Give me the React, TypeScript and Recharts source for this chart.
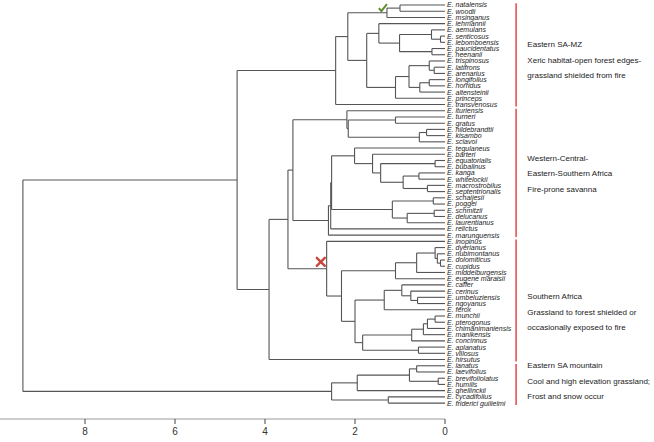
import React from 'react';
import {
  ComposedChart,
  XAxis,
  YAxis,
  Scatter,
  ReferenceLine,
  ReferenceDot,
} from 'recharts';

// leaf order, top to bottom
const species = [
  'natalensis', 'woodii', 'msinganus', 'lehmannii', 'aemulans', 'senticosus',
  'lebomboensis', 'paucidentatus', 'heenanii', 'trispinosus', 'latifrons',
  'arenarius', 'longifolius', 'horridus', 'altensteinii', 'princeps',
  'transvenosus', 'ituriensis', 'turneri', 'gratus', 'hildebrandtii', 'kisambo',
  'sclavoi', 'tegulaneus', 'barteri', 'equatorialis', 'bubalinus', 'kanga',
  'whitelockii', 'macrostrobilus', 'septentrionalis', 'schaijesii', 'poggei',
  'schmitzii', 'delucanus', 'laurentianus', 'relictus', 'marunguensis',
  'inopinus', 'dyerianus', 'nubimontanus', 'dolomiticus', 'cupidus',
  'middelburgensis', 'eugene maraisii', 'caffer', 'cerinus', 'umbeluziensis',
  'ngoyanus', 'ferox', 'munchii', 'pterogonus', 'chimanimaniensis', 'manikensis',
  'concinnus', 'aplanatus', 'villosus', 'hirsutus', 'lanatus', 'laevifolius',
  'brevifoliolatus', 'humilis', 'ghellinckii', 'cycadifolius', 'friderici guilielmi',
];

// [node height, upper child, lower child]
type Node = string | [number, Node, Node];

const easternMZ: Node = [2.43,
  [2.16,
    [1.29, [1.0, 'natalensis', 'woodii'], 'msinganus'],
    [1.74,
      [1.47, 'lehmannii',
        [1.01,
          [0.3, 'aemulans', [0.1, 'senticosus', 'lebomboensis']],
          [0.29, 'paucidentatus', 'heenanii']]],
      [1.1,
        [0.8,
          [0.35, 'trispinosus', [0.24, 'latifrons', 'arenarius']],
          [0.56, [0.35, 'longifolius', 'horridus'], 'altensteinii']],
        'princeps']]],
  'transvenosus'];

const westCentral: Node = [3.38,
  [2.18, 'ituriensis',
    [2.15, [1.1, 'turneri', 'gratus'], [0.57, [0.41, 'hildebrandtii', 'kisambo'], 'sclavoi']]],
  [2.59,
    [2.54,
      [2.52,
        [2.01, 'tegulaneus',
          [1.61, 'barteri',
            [1.43,
              [0.22, 'equatorialis', 'bubalinus'],
              [0.93, [0.58, 'kanga', 'whitelockii'], [0.39, 'macrostrobilus', 'septentrionalis']]]]],
        [1.17, [0.26, 'schaijesii', 'poggei'], [0.84, [0.24, 'schmitzii', 'delucanus'], 'laurentianus']]],
      'relictus'],
    'marunguensis']];

const southern: Node = [2.63, 'inopinus',
  [2.3,
    [1.1,
      [0.63, [0.22, 'dyerianus', [0.17, 'nubimontanus', [0.1, 'dolomiticus', 'cupidus']]], 'middelburgensis'],
      'eugene maraisii'],
    [2.0,
      [1.35, [0.96, 'caffer', [0.76, 'cerinus', [0.61, 'umbeluziensis', 'ngoyanus']]], 'ferox'],
      [1.83,
        [0.74, [0.48, [0.39, [0.22, 'munchii', 'pterogonus'], 'chimanimaniensis'], 'manikensis'], 'concinnus'],
        [0.59, 'aplanatus', 'villosus']]]]];

const mountain: Node = [2.52,
  [1.95, [0.79, [0.63, 'lanatus', 'laevifolius'], [0.15, 'brevifoliolatus', 'humilis']], 'ghellinckii'],
  [1.26, 'cycadifolius', 'friderici guilielmi']];

const tree: Node = [9.38,
  [4.62, easternMZ, [3.91, [3.49, westCentral, southern], 'hirsutus']],
  mountain];

const distTicks = [0, 2, 4, 6, 8];

const groupFirst = ['natalensis', 'ituriensis', 'inopinus', 'lanatus'];
const groupLast = ['transvenosus', 'marunguensis', 'hirsutus', 'friderici guilielmi'];
const groupTitles = ['Eastern SA-MZ', 'Western-Central-', 'Southern Africa', 'Eastern SA mountain'];
const groupLine2 = [
  'Xeric habitat-open forest edges-',
  'Eastern-Southern Africa',
  'Grassland to forest shielded or',
  'Cool and high elevation grassland;',
];
const groupLine3 = [
  'grassland shielded from fire',
  'Fire-prone savanna',
  'occasionally exposed to fire',
  'Frost and snow occur',
];

// layout (pixels -> units): 45px per distance unit, 6.22px per leaf row
const W = 654;
const H = 442;
const PLOT_W = 445;
const AXIS_H = 23;
const ROW_PX = 6.22;
const rowMin = -5 / ROW_PX;
const rowMax = rowMin + (H - AXIS_H) / ROW_PX;
const BAR_X = -1.58;
const NOTE_X = -1.83;
const NOTE_ROW = [9.3, 27.5, 49.8, 60.9];

type Seg = { x1: number; y1: number; x2: number; y2: number };
const segs: Seg[] = [];
const place = (n: Node): { h: number; y: number } => {
  if (typeof n === 'string') return { h: 0, y: species.indexOf(n) };
  const [h, a, b] = n;
  const A = place(a);
  const B = place(b);
  segs.push({ x1: h, y1: A.y, x2: h, y2: B.y });
  segs.push({ x1: h, y1: A.y, x2: A.h, y2: A.y });
  segs.push({ x1: h, y1: B.y, x2: B.h, y2: B.y });
  return { h, y: (A.y + B.y) / 2 };
};
place(tree);

const tips = species.map((_, i) => ({ h: 0, row: i }));

const LeafTick = (props: any) => {
  const { x, y, payload } = props;
  return (
    <text x={x} y={y} dy="0.35em" fontSize={7} fontStyle="italic" fill="#222" textAnchor="start">
      E. {species[payload.value]}
    </text>
  );
};

const CheckMark = (p: any) => (
  <path
    d={`M${p.cx - 4},${p.cy} L${p.cx - 1.5},${p.cy + 3} L${p.cx + 4},${p.cy - 4}`}
    stroke="#5f8f2e"
    strokeWidth={2}
    fill="none"
  />
);

const Cross = (p: any) => (
  <g stroke="#c8463c" strokeWidth={2.4} strokeLinecap="round">
    <line x1={p.cx - 4} y1={p.cy - 4} x2={p.cx + 4} y2={p.cy + 4} />
    <line x1={p.cx - 4} y1={p.cy + 4} x2={p.cx + 4} y2={p.cy - 4} />
  </g>
);

const Note = (i: number) => (p: any) => (
  <text x={p.cx} y={p.cy} fontSize={8} fill="#222" dy="0.35em">
    <tspan x={p.cx} dy="-15.5">{groupTitles[i]}</tspan>
    <tspan x={p.cx} dy="15.5">{groupLine2[i]}</tspan>
    <tspan x={p.cx} dy="15.5">{groupLine3[i]}</tspan>
  </text>
);

export default function App() {
  return (
    <div style={{ position: 'absolute', left: 0, top: 0, fontFamily: '"Liberation Sans", Arial, sans-serif' }}>
      <ComposedChart width={W} height={H} data={tips} margin={{ top: 0, right: 0, bottom: 0, left: 0 }}>
        <XAxis
          type="number"
          dataKey="h"
          domain={[0, PLOT_W / 45]}
          reversed
          allowDataOverflow
          ticks={distTicks}
          interval={0}
          height={AXIS_H}
          stroke="#999"
          tickLine={{ stroke: '#444' }}
          tickSize={5}
          tickMargin={4}
          tick={{ fill: '#333', fontSize: 10 }}
        />
        <YAxis
          type="number"
          dataKey="row"
          orientation="right"
          reversed
          allowDataOverflow
          domain={[rowMin, rowMax]}
          ticks={tips.map((t) => t.row)}
          interval={0}
          width={W - PLOT_W}
          axisLine={false}
          tickLine={false}
          tickSize={0}
          tickMargin={2}
          tick={<LeafTick />}
        />
        <Scatter dataKey="row" shape={() => <g />} isAnimationActive={false} />
        {segs.map((s, i) => (
          <ReferenceLine
            key={`s${i}`}
            segment={[{ x: s.x1, y: s.y1 }, { x: s.x2, y: s.y2 }]}
            stroke="#555"
            strokeWidth={1.1}
            ifOverflow="visible"
          />
        ))}
        {groupFirst.map((f, i) => (
          <ReferenceLine
            key={`g${i}`}
            segment={[
              { x: BAR_X, y: species.indexOf(f) - 0.3 },
              { x: BAR_X, y: species.indexOf(groupLast[i]) + 0.3 },
            ]}
            stroke="#e0484a"
            strokeWidth={1.5}
            ifOverflow="visible"
          />
        ))}
        {groupTitles.map((_, i) => (
          <ReferenceDot key={`n${i}`} x={NOTE_X} y={NOTE_ROW[i]} ifOverflow="visible" shape={Note(i)} />
        ))}
        <ReferenceDot x={1.38} y={0.5} ifOverflow="visible" shape={CheckMark} />
        <ReferenceDot x={2.76} y={41.3} ifOverflow="visible" shape={Cross} />
      </ComposedChart>
    </div>
  );
}
